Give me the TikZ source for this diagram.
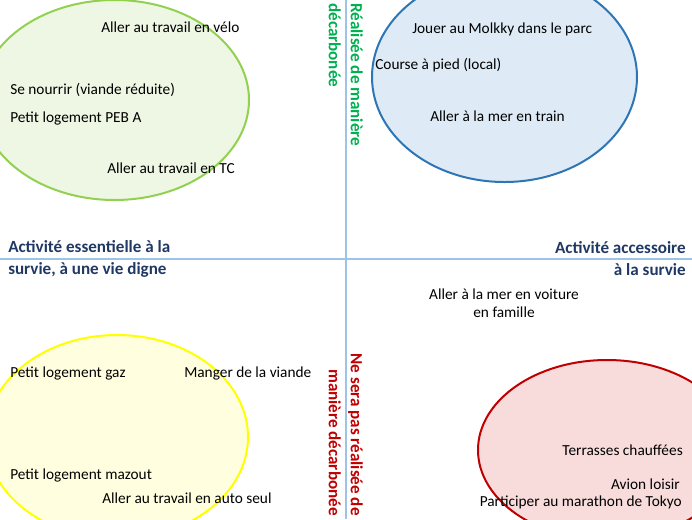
\documentclass[tikz,border=0pt]{standalone}
\usepackage{fontspec}
\setmainfont{Carlito}
\definecolor{axiscol}{HTML}{9DC3E6}
\definecolor{greenline}{HTML}{92D050}
\definecolor{greenfill}{HTML}{EEF7E3}
\definecolor{blueline}{HTML}{2E75B6}
\definecolor{bluefill}{HTML}{DEEBF7}
\definecolor{yellowline}{HTML}{FFFF00}
\definecolor{yellowfill}{HTML}{FFFFE0}
\definecolor{redline}{HTML}{C00000}
\definecolor{redfill}{HTML}{F8DCDC}
\definecolor{greentxt}{HTML}{00B050}
\definecolor{redtxt}{HTML}{C00000}
\definecolor{navytxt}{HTML}{203864}
\tikzset{
  item/.style={inner sep=0pt, font=\fontsize{11.5pt}{13.5pt}\selectfont, text=black},
  axislabel/.style={inner sep=0pt, font=\fontsize{12.8pt}{16.5pt}\selectfont\bfseries, text=navytxt},
  vlabel/.style={inner sep=0pt, font=\fontsize{12.8pt}{16.5pt}\selectfont\bfseries, rotate=-90},
  zone/.style={line width=1.5pt},
  axisline/.style={draw=axiscol, line width=1.2pt}
}
\begin{document}
\begin{tikzpicture}[x=0.75pt,y=-0.75pt]
\useasboundingbox (0,0) rectangle (692,519);
\clip (0,0) rectangle (692,519);
% ellipses
\draw[zone, draw=greenline, fill=greenfill] (114.5,100) ellipse [x radius=134.5, y radius=100];
\draw[zone, draw=blueline, fill=bluefill] (504.5,77) ellipse [x radius=132.5, y radius=105];
\draw[zone, draw=yellowline, fill=yellowfill] (117,437) ellipse [x radius=131, y radius=102];
\draw[zone, draw=redline, fill=redfill] (607,450) ellipse [x radius=129, y radius=90];
% axes
\coordinate (vtop) at (346,0);
\coordinate (vbot) at (346,519);
\coordinate (hl) at (0,259);
\coordinate (hr) at (692,259);
\draw[axisline] (vtop) -- (vbot);
\draw[axisline] (hl) -- (hr);
% axis labels
\node[axislabel, anchor=west, align=left] (essential) at (8,259) {Activité essentielle à la\\survie, à une vie digne};
\node[axislabel, anchor=east, align=right] (accessoire) at (686,259) {Activité accessoire\\à la survie};
\node[vlabel, text=greentxt, align=left, anchor=north west] (decarb) at (363,3) {Réalisée de manière\\décarbonée};
\node[vlabel, text=redtxt, align=right, anchor=north east] (nondecarb) at (363,516) {Ne sera pas réalisée de\\manière décarbonée};
% items, top-left
\node[item, anchor=west] (velo) at (101,27) {Aller au travail en vélo};
\node[item, anchor=west] (nourrir) at (10,90) {Se nourrir (viande réduite)};
\node[item, anchor=west] (peba) at (10,118) {Petit logement PEB A};
\node[item, anchor=west] (tc) at (107,168) {Aller au travail en TC};
% top-right
\node[item, anchor=west] (molkky) at (412,29) {Jouer au Molkky dans le parc};
\node[item, anchor=west] (course) at (375,65) {Course à pied (local)};
\node[item, anchor=west] (train) at (430,116) {Aller à la mer en train};
% bottom-right
\node[item, align=center] (voiture) at (504,303) {Aller à la mer en voiture\\en famille};
\node[item, anchor=east] (terrasses) at (683,450) {Terrasses chauffées};
\node[item, anchor=east] (avion) at (680,484) {Avion loisir};
\node[item, anchor=east] (tokyo) at (682,502) {Participer au marathon de Tokyo};
% bottom-left
\node[item, anchor=west] (gaz) at (10,373) {Petit logement gaz};
\node[item, anchor=west] (viande) at (184,373) {Manger de la viande};
\node[item, anchor=west] (mazout) at (10,475) {Petit logement mazout};
\node[item, anchor=west] (auto) at (102,498) {Aller au travail en auto seul};
\end{tikzpicture}
\end{document}
